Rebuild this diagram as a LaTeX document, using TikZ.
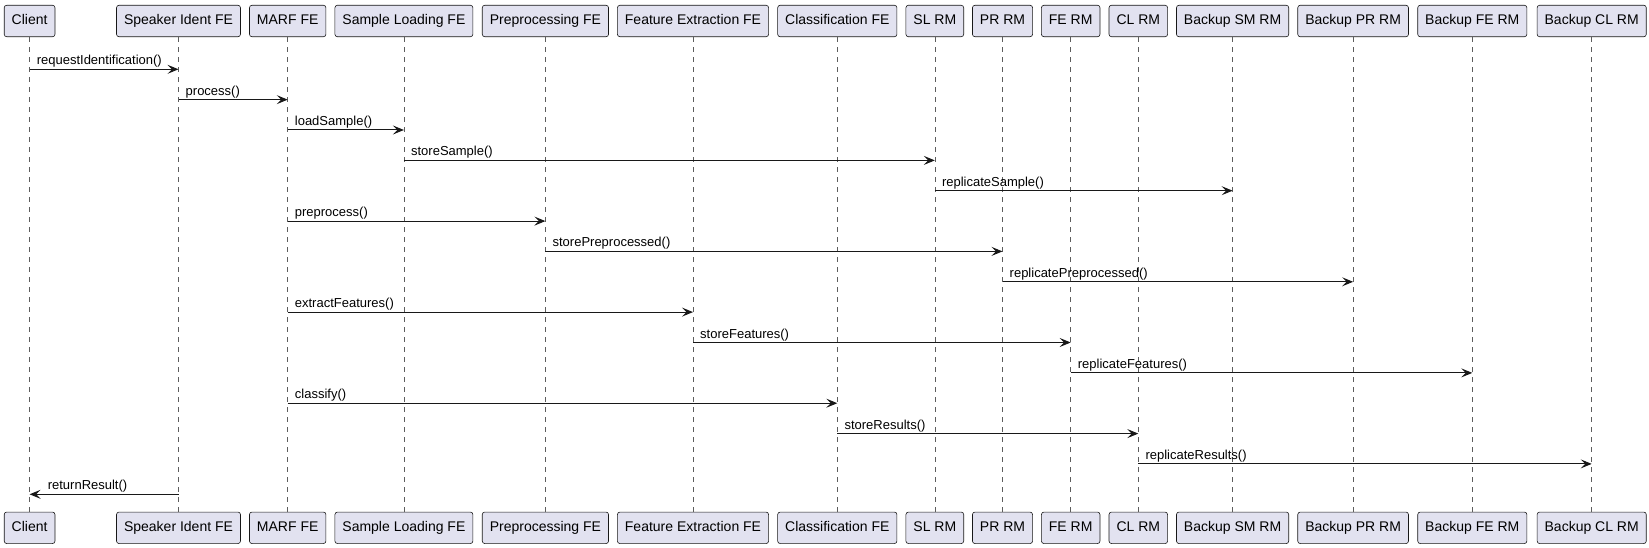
\documentclass[tikz,border=0pt]{standalone}
\usepackage{fontspec}
\setmainfont{Liberation Sans}
\usetikzlibrary{arrows.meta}
\definecolor{boxfill}{HTML}{E2E2F0}
\definecolor{ink}{HTML}{181818}
\tikzset{
  part/.style={draw=ink, line width=0.6pt, fill=boxfill, rounded corners=2.5pt,
    minimum height=31.5pt, inner xsep=7.5pt, inner ysep=0pt,
    text height=10pt, text depth=3pt, font=\fontsize{14}{16}\selectfont},
  life/.style={draw=ink!70, line width=0.6pt, dash pattern=on 5pt off 5pt},
  msg/.style={draw=ink, line width=1pt, -{Stealth[length=11pt,width=9pt,inset=4.5pt]}},
  lbl/.style={inner sep=0pt, font=\fontsize{13}{15}\selectfont}
}
\newcommand\msgR[4]{%
  \draw[msg] (#1.south |- 0,#3) -- (#2.south |- 0,#3);
  \path (#1.south |- 0,#3) node[lbl, anchor=base west, xshift=7pt, yshift=4.5pt] {#4};}
\newcommand\msgL[4]{%
  \draw[msg] (#1.south |- 0,#3) -- (#2.south |- 0,#3);
  \path (#2.south |- 0,#3) node[lbl, anchor=base west, xshift=18pt, yshift=4.5pt] {#4};}
\begin{document}
\begin{tikzpicture}[x=1pt,y=-1pt]
\useasboundingbox (0,0) rectangle (1649,548);
\foreach \n/\x/\t in {1/29.6/Client, 2/178.5/Speaker Ident FE, 3/287.7/MARF FE,
  4/403.9/Sample Loading FE, 5/545.4/Preprocessing FE, 6/693/Feature Extraction FE,
  7/837.3/Classification FE, 8/934.8/SL RM, 9/1002.5/PR RM, 10/1070.7/FE RM,
  11/1138.3/CL RM, 12/1232.6/Backup SM RM, 13/1353.1/Backup PR RM,
  14/1472.3/Backup FE RM, 15/1591.7/Backup CL RM}{
  \node[part] (t\n) at (\x,21) {\t};
  \node[part] (b\n) at (\x,527.8) {\t};
  \draw[life] (t\n.south) -- (b\n.north);
}
\msgR{t1}{t2}{69.3}{requestIdentification()}
\msgR{t2}{t3}{99.65}{process()}
\msgR{t3}{t4}{130.0}{loadSample()}
\msgR{t4}{t8}{160.4}{storeSample()}
\msgR{t8}{t12}{190.7}{replicateSample()}
\msgR{t3}{t5}{221.1}{preprocess()}
\msgR{t5}{t9}{251.4}{storePreprocessed()}
\msgR{t9}{t13}{281.8}{replicatePreprocessed()}
\msgR{t3}{t6}{312.1}{extractFeatures()}
\msgR{t6}{t10}{342.5}{storeFeatures()}
\msgR{t10}{t14}{372.9}{replicateFeatures()}
\msgR{t3}{t7}{403.2}{classify()}
\msgR{t7}{t11}{433.6}{storeResults()}
\msgR{t11}{t15}{463.9}{replicateResults()}
\msgL{t2}{t1}{494.3}{returnResult()}
\end{tikzpicture}
\end{document}
